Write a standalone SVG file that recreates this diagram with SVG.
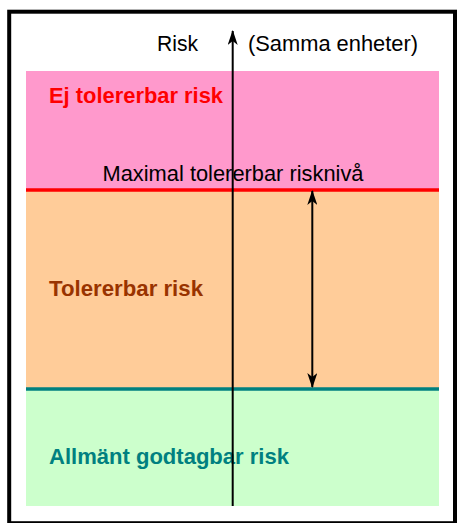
<svg xmlns="http://www.w3.org/2000/svg" width="457" height="523" viewBox="0 0 457 523">
  <style>
    .lbl { font-family: "Liberation Sans", Arial, sans-serif; font-size: 21.5px; fill: #000; }
    .zone { font-family: "Liberation Sans", Arial, sans-serif; font-size: 21.5px; font-weight: bold; }
    .axis { stroke: #000; stroke-width: 2; fill: none; }
  </style>
  <defs>
    <marker id="arrow" viewBox="0 0 15 10" refX="14" refY="5" markerWidth="15" markerHeight="10" markerUnits="userSpaceOnUse" orient="auto-start-reverse">
      <path d="M0,0 L15,5 L0,10 L4,5 Z" fill="#000"/>
    </marker>
  </defs>

  <rect width="457" height="523" fill="#fff"/>
  <!-- outer frame -->
  <rect x="9.2" y="11.7" width="445.8" height="511.5" fill="none" stroke="#000" stroke-width="4"/>

  <!-- risk bands -->
  <g id="ej-tolererbar">
    <rect x="26" y="71" width="413" height="119" fill="#FF99CC"/>
    <text class="zone" x="49" y="103" fill="#FF0000" textLength="174" lengthAdjust="spacingAndGlyphs">Ej tolererbar risk</text>
  </g>
  <g id="tolererbar">
    <rect x="26" y="190" width="413" height="199" fill="#FFCC99"/>
    <text class="zone" x="49" y="296" fill="#993300" textLength="154" lengthAdjust="spacingAndGlyphs">Tolererbar risk</text>
  </g>
  <g id="allmant-godtagbar">
    <rect x="26" y="389" width="413" height="117" fill="#CCFFCC"/>
    <text class="zone" x="49" y="464" fill="#008080" textLength="240" lengthAdjust="spacingAndGlyphs">Allmänt godtagbar risk</text>
  </g>

  <!-- threshold lines -->
  <g id="max-niva">
    <line x1="26" y1="190" x2="439" y2="190" stroke="#FF0000" stroke-width="3.5"/>
    <text class="lbl" x="102.5" y="181" textLength="261" lengthAdjust="spacingAndGlyphs">Maximal tolererbar risknivå</text>
  </g>
  <g id="nedre-niva">
    <line x1="26" y1="389" x2="439" y2="389" stroke="#008080" stroke-width="3.5"/>
  </g>

  <!-- axis labels -->
  <g id="axel-etiketter">
    <text class="lbl" x="157" y="51" textLength="41" lengthAdjust="spacingAndGlyphs">Risk</text>
    <text class="lbl" x="248" y="51" textLength="170" lengthAdjust="spacingAndGlyphs">(Samma enheter)</text>
  </g>

  <g id="connectors">
    <line class="axis" x1="232.7" y1="506" x2="232.7" y2="31" marker-end="url(#arrow)"/>
    <line class="axis" x1="312.3" y1="191" x2="312.3" y2="387" marker-start="url(#arrow)" marker-end="url(#arrow)"/>
  </g>
</svg>
